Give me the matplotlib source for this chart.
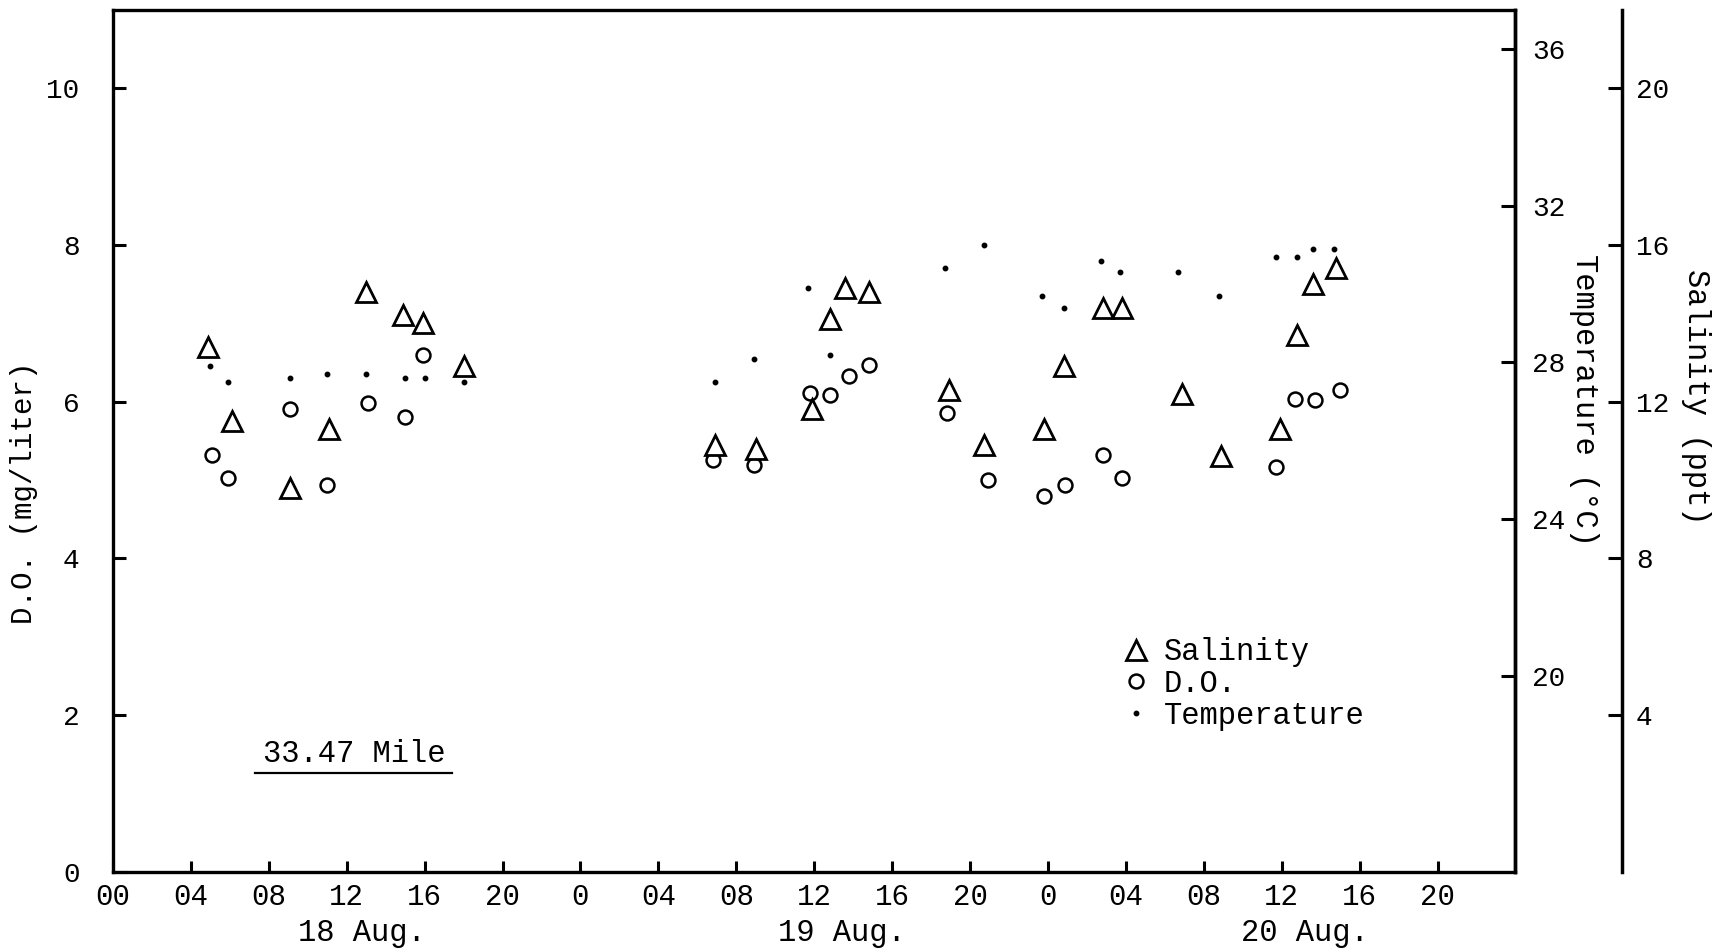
import matplotlib
matplotlib.use('Agg')
import matplotlib.pyplot as plt
from matplotlib.lines import Line2D

plt.rcParams['font.family'] = ['Liberation Mono', 'DejaVu Sans']

# time in hours from 00h 18 Aug
sal_hours = [4.9, 6.1, 9.1, 11.1, 13.0, 14.9, 15.9, 18.0,
             30.9, 33.0, 35.9, 36.8, 37.6, 38.8, 42.9, 44.7, 47.8, 48.8,
             50.8, 51.8, 54.9, 56.9, 59.9, 60.8, 61.6, 62.8]
sal_ppt = [13.4, 11.5, 9.8, 11.3, 14.8, 14.2, 14.0, 12.9,
           10.9, 10.8, 11.8, 14.1, 14.9, 14.8, 12.3, 10.9, 11.3, 12.9,
           14.4, 14.4, 12.2, 10.6, 11.3, 13.7, 15.0, 15.4]

do_hours = [5.1, 5.9, 9.1, 11.0, 13.1, 15.0, 15.9,
            30.8, 32.9, 35.8, 36.8, 37.8, 38.8, 42.8, 44.9, 47.8, 48.9,
            50.8, 51.8, 59.7, 60.7, 61.7, 63.0]
do_mg = [5.32, 5.02, 5.90, 4.93, 5.98, 5.81, 6.60,
         5.26, 5.19, 6.11, 6.08, 6.33, 6.47, 5.85, 5.00, 4.79, 4.94,
         5.32, 5.03, 5.17, 6.04, 6.02, 6.15]

temp_hours = [5.0, 5.9, 9.1, 11.0, 13.0, 15.0, 16.0, 18.0,
              30.9, 32.9, 35.7, 36.8, 42.7, 44.7, 47.7, 48.8, 50.7, 51.7,
              54.7, 56.8, 59.7, 60.8, 61.6, 62.7]
temp_c = [27.9, 27.5, 27.6, 27.7, 27.7, 27.6, 27.6, 27.5,
          27.5, 28.1, 29.9, 28.2, 30.4, 31.0, 29.7, 29.4, 30.6, 30.3,
          30.3, 29.7, 30.7, 30.7, 30.9, 30.9]

x_ticks = list(range(0, 72, 4))
x_labels = ['00', '04', '08', '12', '16', '20',
            '0', '04', '08', '12', '16', '20',
            '0', '04', '08', '12', '16', '20']
days = ['18 Aug.', '19 Aug.', '20 Aug.']
day_pos = [12.8, 37.4, 61.2]

fig = plt.figure(figsize=(17.19, 9.5), dpi=100)
ax = fig.add_axes([0.0657, 0.0825, 0.8159, 0.907])
ax.set_xlim(0, 72)
ax.set_ylim(0, 11)

ax_t = ax.twinx()
ax_t.set_ylim(15, 37)
ax_s = ax.twinx()
ax_s.set_ylim(0, 22)
ax_s.spines['right'].set_position(('axes', 1.076))

for a in (ax_t, ax_s):
    for s in ('left', 'top', 'bottom'):
        a.spines[s].set_visible(False)
    a.spines['right'].set_linewidth(2.5)
for s in ax.spines.values():
    s.set_linewidth(2.4)

ax.set_xticks(x_ticks)
ax.set_xticklabels(x_labels)
ax.set_yticks(range(0, 11, 2))
ax.tick_params(axis='y', direction='in', length=9, width=2.2, pad=24, labelsize=20)
ax.tick_params(axis='x', direction='in', length=8, width=2.2, pad=8, labelsize=21)

ax_t.set_yticks([20, 24, 28, 32, 36])
ax_t.tick_params(axis='y', direction='in', length=10, width=2.2, pad=12, labelsize=20)
ax_s.set_yticks([4, 8, 12, 16, 20])
ax_s.tick_params(axis='y', direction='in', length=10, width=2.2, pad=10, labelsize=20)

ax_s.plot(sal_hours, sal_ppt, ls='none', marker='^', ms=15, mfc='white',
          mec='black', mew=2.0)
ax.plot(do_hours, do_mg, ls='none', marker='o', ms=10, mfc='white',
        mec='black', mew=1.8)
ax_t.plot(temp_hours, temp_c, ls='none', marker='o', ms=3.2, color='black')

for d, p in zip(days, day_pos):
    ax.text(p, -0.071, d, transform=ax.get_xaxis_transform(),
            ha='center', va='center', fontsize=22)

ax.text(-0.0635, 0.44, 'D.O. (mg/liter)', transform=ax.transAxes,
        rotation=90, ha='center', va='center', fontsize=21)
ax.text(1.049, 0.547, 'Temperature (°C)', transform=ax.transAxes,
        rotation=-90, ha='center', va='center', fontsize=22)
ax.text(1.1287, 0.551, 'Salinity (ppt)', transform=ax.transAxes,
        rotation=-90, ha='center', va='center', fontsize=22)

ax.text(0.1723, 0.1365, '33.47 Mile', transform=ax.transAxes,
        ha='center', va='center', fontsize=22)
ax.add_line(Line2D([0.1015, 0.2415], [0.1144, 0.1144], transform=ax.transAxes,
                   color='black', lw=1.6))

handles = [
    Line2D([], [], ls='none', marker='^', ms=15, mfc='white', mec='black', mew=2.0),
    Line2D([], [], ls='none', marker='o', ms=10, mfc='white', mec='black', mew=1.8),
    Line2D([], [], ls='none', marker='o', ms=3.2, color='black'),
]
ax.legend(handles, ['Salinity', 'D.O.', 'Temperature'], loc='upper left',
          bbox_to_anchor=(0.7207, 0.272), frameon=False, fontsize=22,
          handlelength=0.8, handletextpad=0.5, labelspacing=0.06,
          borderaxespad=0, borderpad=0, numpoints=1)

fig.savefig('out.png', dpi=100)
